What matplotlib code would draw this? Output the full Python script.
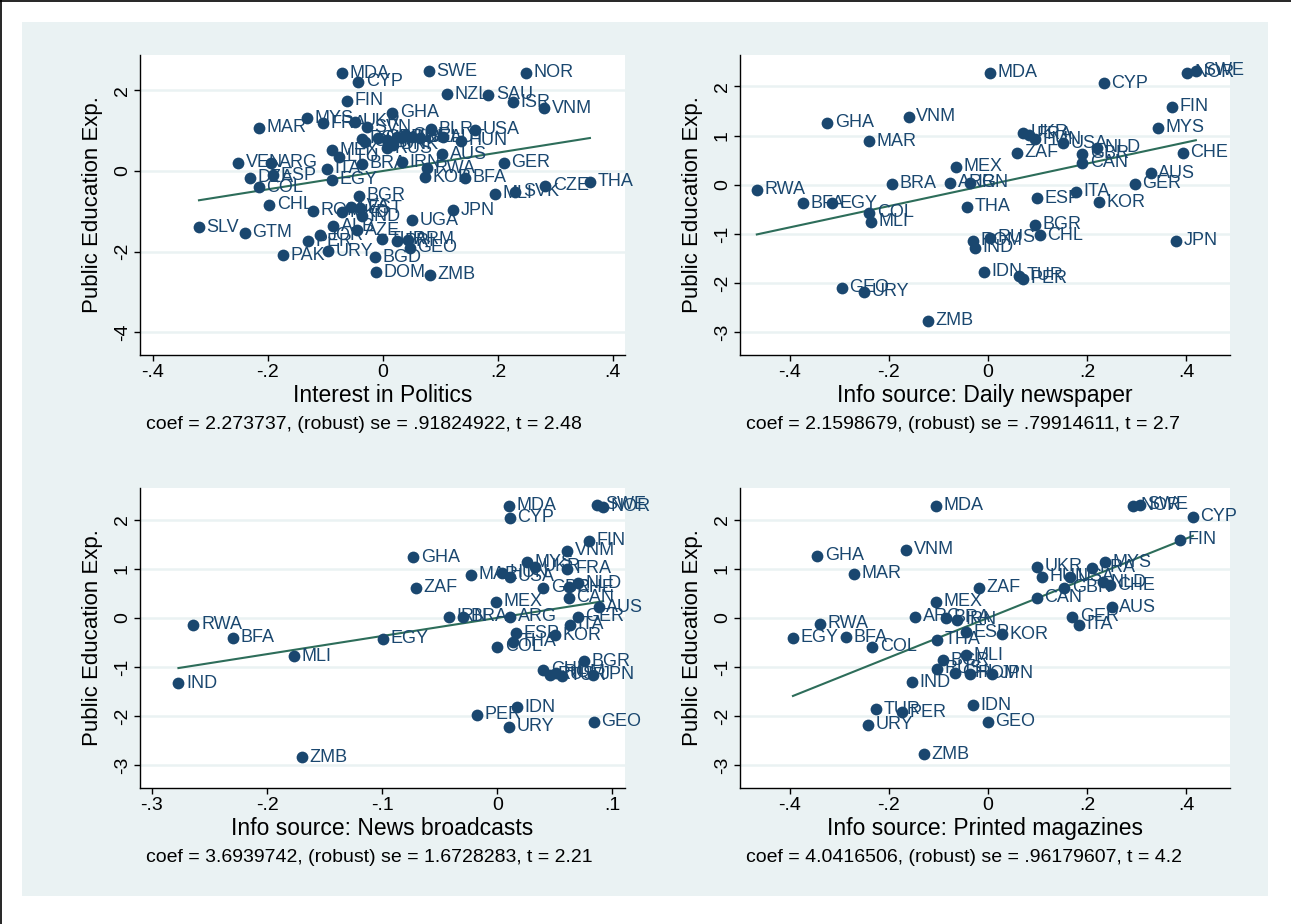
import numpy as np
import matplotlib
matplotlib.use('Agg')
import matplotlib.pyplot as plt
from matplotlib.patches import Rectangle
from matplotlib.ticker import FuncFormatter

plt.rcParams['font.family'] = ['Liberation Sans', 'DejaVu Sans']

W, H = 1291, 924
BG = '#eaf2f3'
NAVY = '#1a476f'
GREEN = '#2d6d5a'

# -----------------------------
# DATA
# -----------------------------
# panel 1: Interest in Politics
p1_codes = ['MDA', 'CYP', 'SWE', 'NOR', 'NZL', 'SAU', 'ISR', 'VNM', 'FIN', 'GHA',
            'MYS', 'FRA', 'MAR', 'UKR', 'SVN', 'BLR', 'USA', 'POL', 'GBR', 'CAN',
            'NLD', 'CHE', 'IRL', 'BEL', 'AUT', 'HUN', 'CHN', 'RUS', 'DNK', 'MEX',
            'LTU', 'BRA', 'IRN', 'RWA', 'AUS', 'KOR', 'BFA', 'GER', 'MLI', 'SVK',
            'CZE', 'THA', 'VEN', 'ARG', 'DZA', 'ESP', 'COL', 'ITA', 'EGY', 'BGR',
            'CHL', 'SLV', 'GTM', 'ROM', 'MKD', 'LVA', 'EST', 'IND', 'ALB', 'AZE',
            'JOR', 'PER', 'URY', 'PAK', 'TUR', 'PRI', 'ARM', 'GEO', 'BGD', 'DOM',
            'ZMB', 'UGA', 'JPN']
p1_x = [-0.071, -0.043, 0.080, 0.249, 0.111, 0.183, 0.226, 0.280, -0.063, 0.016,
        -0.132, -0.104, -0.216, -0.049, -0.028, 0.083, 0.160, -0.037, -0.009, 0.007,
        0.024, 0.038, 0.050, 0.064, 0.104, 0.136, -0.031, 0.007, 0.017, -0.089,
        -0.077, -0.037, 0.033, 0.077, 0.103, 0.073, 0.143, 0.210, 0.195, 0.230,
        0.282, 0.360, -0.252, -0.195, -0.231, -0.191, -0.216, -0.097, -0.089, -0.042,
        -0.198, -0.320, -0.240, -0.122, -0.071, -0.056, -0.040, -0.037, -0.087, -0.045,
        -0.110, -0.130, -0.096, -0.174, -0.002, 0.024, 0.043, 0.047, -0.014, -0.012,
        0.082, 0.050, 0.122]
p1_y = [2.43, 2.21, 2.48, 2.44, 1.91, 1.89, 1.71, 1.56, 1.74, 1.45,
        1.31, 1.19, 1.07, 1.22, 1.09, 1.04, 1.02, 0.80, 0.82, 0.77,
        0.84, 0.89, 0.84, 0.82, 0.84, 0.75, 0.72, 0.57, 0.65, 0.52,
        0.35, 0.18, 0.22, 0.07, 0.42, -0.15, -0.17, 0.20, -0.57, -0.52,
        -0.37, -0.27, 0.20, 0.20, -0.17, -0.10, -0.40, 0.05, -0.22, -0.62,
        -0.84, -1.40, -1.53, -0.99, -1.02, -0.89, -0.92, -1.12, -1.37, -1.47,
        -1.59, -1.74, -1.99, -2.09, -1.69, -1.74, -1.71, -1.91, -2.14, -2.51,
        -2.58, -1.22, -0.97]

# panel 2: Daily newspaper
p2_codes = ['RWA', 'BFA', 'EGY', 'COL', 'MLI', 'GEO', 'URY', 'ZMB', 'GHA', 'VNM',
            'MAR', 'BRA', 'ARG', 'IRN', 'MEX', 'THA', 'ROM', 'IND', 'IDN', 'RUS',
            'MDA', 'CYP', 'NOR', 'SWE', 'FIN', 'MYS', 'UKR', 'FRA', 'HUN', 'USA',
            'ZAF', 'GBR', 'NLD', 'CAN', 'CHE', 'AUS', 'GER', 'ITA', 'ESP', 'KOR',
            'BGR', 'CHL', 'JPN', 'TUR', 'PER']
p2_x = [-0.467, -0.374, -0.315, -0.240, -0.236, -0.295, -0.250, -0.121, -0.325, -0.160,
        -0.240, -0.194, -0.077, -0.036, -0.065, -0.042, -0.030, -0.026, -0.008, 0.004,
        0.004, 0.234, 0.402, 0.420, 0.372, 0.343, 0.071, 0.083, 0.095, 0.152,
        0.059, 0.190, 0.220, 0.190, 0.394, 0.329, 0.297, 0.178, 0.099, 0.224,
        0.095, 0.105, 0.380, 0.063, 0.071]
p2_y = [-0.10, -0.37, -0.37, -0.57, -0.75, -2.09, -2.17, -2.76, 1.26, 1.38,
        0.89, 0.02, 0.04, 0.04, 0.37, -0.45, -1.14, -1.28, -1.77, -1.08,
        2.28, 2.07, 2.28, 2.32, 1.59, 1.16, 1.06, 1.02, 0.93, 0.85,
        0.65, 0.63, 0.75, 0.45, 0.65, 0.24, 0.02, -0.14, -0.27, -0.35,
        -0.81, -1.02, -1.14, -1.85, -1.91]

# panel 3: News broadcasts
p3_codes = ['IND', 'RWA', 'BFA', 'MLI', 'ZMB', 'EGY', 'GHA', 'ZAF', 'MAR', 'IRN',
            'BRA', 'ARG', 'MEX', 'ESP', 'THA', 'COL', 'KOR', 'GER', 'ITA', 'AUS',
            'CAN', 'GBR', 'CHE', 'NLD', 'FRA', 'USA', 'HUN', 'MYS', 'UKR', 'VNM',
            'FIN', 'MDA', 'CYP', 'SWE', 'NOR', 'BGR', 'CHL', 'RUS', 'ROM', 'JPN',
            'TUR', 'IDN', 'PER', 'URY', 'GEO']
p3_x = [-0.277, -0.264, -0.230, -0.177, -0.170, -0.099, -0.073, -0.071, -0.023, -0.042,
        -0.030, 0.011, -0.001, 0.016, 0.014, 0.000, 0.050, 0.070, 0.063, 0.088,
        0.062, 0.040, 0.062, 0.070, 0.061, 0.011, 0.004, 0.026, 0.033, 0.061,
        0.080, 0.010, 0.011, 0.087, 0.092, 0.075, 0.040, 0.046, 0.051, 0.083,
        0.056, 0.017, -0.018, 0.010, 0.084]
p3_y = [-1.33, -0.14, -0.41, -0.78, -2.84, -0.43, 1.24, 0.61, 0.88, 0.02,
        0.02, 0.02, 0.33, -0.31, -0.49, -0.59, -0.35, 0.02, -0.14, 0.22,
        0.41, 0.61, 0.63, 0.71, 1.00, 0.84, 0.92, 1.14, 1.04, 1.37,
        1.57, 2.29, 2.04, 2.31, 2.27, -0.88, -1.06, -1.16, -1.12, -1.16,
        -1.18, -1.82, -1.98, -2.22, -2.12]

# panel 4: Printed magazines
p4_codes = ['MDA', 'SWE', 'NOR', 'CYP', 'FIN', 'GHA', 'VNM', 'MAR', 'UKR', 'MYS',
            'FRA', 'HUN', 'USA', 'NLD', 'CHE', 'GBR', 'ZAF', 'CAN', 'AUS', 'GER',
            'ITA', 'KOR', 'ESP', 'MEX', 'ARG', 'BRA', 'RWA', 'EGY', 'BFA', 'COL',
            'THA', 'MLI', 'BGR', 'RUS', 'CHL', 'ROM', 'JPN', 'IND', 'IDN', 'GEO',
            'TUR', 'PER', 'URY', 'ZMB', 'IRN']
p4_x = [-0.105, 0.307, 0.293, 0.414, 0.388, -0.345, -0.166, -0.271, 0.099, 0.236,
        0.210, 0.109, 0.166, 0.232, 0.246, 0.154, -0.018, 0.099, 0.250, 0.170,
        0.184, 0.028, -0.044, -0.105, -0.147, -0.085, -0.339, -0.394, -0.287, -0.234,
        -0.103, -0.044, -0.091, -0.103, -0.067, -0.036, 0.008, -0.154, -0.030, 0.000,
        -0.226, -0.174, -0.242, -0.129, -0.062]
p4_y = [2.29, 2.31, 2.29, 2.06, 1.59, 1.27, 1.39, 0.90, 1.04, 1.14,
        1.02, 0.84, 0.84, 0.73, 0.67, 0.61, 0.61, 0.41, 0.22, 0.02,
        -0.14, -0.33, -0.29, 0.33, 0.02, 0.00, -0.12, -0.41, -0.39, -0.59,
        -0.45, -0.76, -0.86, -1.04, -1.12, -1.14, -1.14, -1.31, -1.78, -2.12,
        -1.86, -1.92, -2.18, -2.78, -0.04]

x_titles = ['Interest in Politics', 'Info source: Daily newspaper',
            'Info source: News broadcasts', 'Info source: Printed magazines']
coefs = [2.273737, 2.1598679, 3.6939742, 4.0416506]
coef_txt = ['2.273737', '2.1598679', '3.6939742', '4.0416506']
se_txt = ['.91824922', '.79914611', '1.6728283', '.96179607']
t_txt = ['2.48', '2.7', '2.21', '4.2']

x_ticks = [[-0.4, -0.2, 0, 0.2, 0.4], [-0.4, -0.2, 0, 0.2, 0.4],
           [-0.3, -0.2, -0.1, 0, 0.1], [-0.4, -0.2, 0, 0.2, 0.4]]
y_ticks = [[-4, -2, 0, 2], [-3, -2, -1, 0, 1, 2],
           [-3, -2, -1, 0, 1, 2], [-3, -2, -1, 0, 1, 2]]
x_lims = [(-0.4226, 0.421), (-0.501, 0.489), (-0.3104, 0.111), (-0.501, 0.489)]
y_lims = [(-4.57, 2.88), (-3.46, 2.64), (-3.47, 2.65), (-3.47, 2.65)]

panels = [(p1_codes, p1_x, p1_y), (p2_codes, p2_x, p2_y),
          (p3_codes, p3_x, p3_y), (p4_codes, p4_x, p4_y)]

# plot regions in pixels: left, top, right, bottom
boxes = [(140, 55, 625, 355), (740, 55, 1230, 355),
         (140, 488, 625, 788), (740, 488, 1230, 788)]


def stata_fmt(v, pos):
    v = round(v, 3)
    if abs(v) < 1e-9:
        return '0'
    s = '%g' % v
    return s.replace('0.', '.')


# -----------------------------
# FIGURE
# -----------------------------
fig = plt.figure(figsize=(W / 100, H / 100), dpi=100)
fig.patch.set_facecolor('white')
fig.patches.append(Rectangle((22 / W, 1 - 896 / H), (1268 - 22) / W, (896 - 22) / H,
                             transform=fig.transFigure, facecolor=BG,
                             edgecolor='none', zorder=-10))
fig.add_artist(plt.Line2D([0, 1], [0.999, 0.999], color='black', lw=1.2,
                          transform=fig.transFigure))
fig.add_artist(plt.Line2D([0.0008, 0.0008], [0, 1], color='black', lw=1.2,
                          transform=fig.transFigure))

for i, (codes, xs, ys) in enumerate(panels):
    l, t, r, b = boxes[i]
    ax = fig.add_axes([l / W, 1 - b / H, (r - l) / W, (b - t) / H])
    ax.set_facecolor('white')
    ax.set_xlim(*x_lims[i])
    ax.set_ylim(*y_lims[i])
    ax.set_xticks(x_ticks[i])
    ax.set_yticks(y_ticks[i])
    ax.xaxis.set_major_formatter(FuncFormatter(stata_fmt))
    ax.yaxis.set_major_formatter(FuncFormatter(stata_fmt))
    for s in ['top', 'right']:
        ax.spines[s].set_visible(False)
    for s in ['left', 'bottom']:
        ax.spines[s].set_color('black')
        ax.spines[s].set_linewidth(1.0)
    ax.tick_params(direction='out', length=4.5, width=1.0, labelsize=14, pad=2)
    for lab in ax.get_yticklabels():
        lab.set_rotation(90)
        lab.set_va('center')
    ax.yaxis.grid(True, color=BG, lw=1.8)
    ax.set_axisbelow(True)

    ax.scatter(xs, ys, s=72, color=NAVY, linewidths=0, zorder=3)
    for c, x, y in zip(codes, xs, ys):
        ax.annotate(c, (x, y), xytext=(5.5, 0), textcoords='offset points',
                    ha='left', va='center', fontsize=13, color=NAVY, zorder=4)

    lx = np.array([min(xs), max(xs)])
    ax.plot(lx, coefs[i] * lx, color=GREEN, lw=1.5, zorder=2)

    ax.set_xlabel(x_titles[i], fontsize=16.5, labelpad=2)
    ax.set_ylabel('Public Education Exp.', fontsize=16, labelpad=8)

    fig.text((l + 6) / W, 1 - (b + 70) / H,
             'coef = %s, (robust) se = %s, t = %s' % (coef_txt[i], se_txt[i], t_txt[i]),
             fontsize=14, ha='left', va='center')

plt.savefig('out.png', dpi=100, facecolor=fig.get_facecolor())
